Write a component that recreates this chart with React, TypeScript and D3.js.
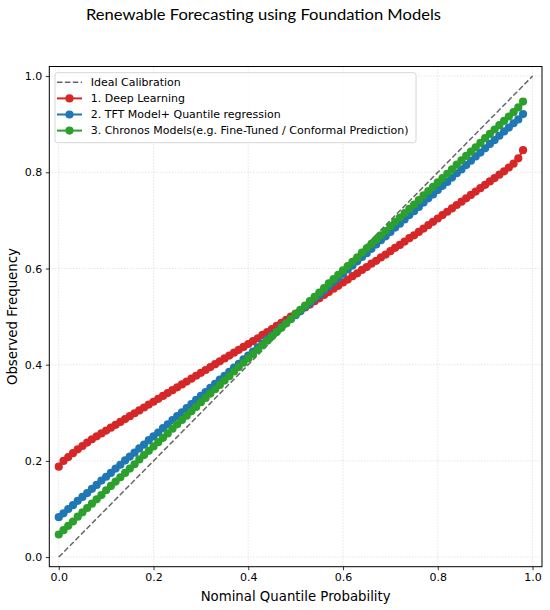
import * as d3 from "d3";
import { useEffect, useRef } from "react";

// nominal quantile levels
const nominal = [
  0.0, 0.01, 0.02, 0.03, 0.04, 0.05, 0.06, 0.07, 0.08, 0.09,
  0.1, 0.11, 0.12, 0.13, 0.14, 0.15, 0.16, 0.17, 0.18, 0.19,
  0.2, 0.21, 0.22, 0.23, 0.24, 0.25, 0.26, 0.27, 0.28, 0.29,
  0.3, 0.31, 0.32, 0.33, 0.34, 0.35, 0.36, 0.37, 0.38, 0.39,
  0.4, 0.41, 0.42, 0.43, 0.44, 0.45, 0.46, 0.47, 0.48, 0.49,
  0.5, 0.51, 0.52, 0.53, 0.54, 0.55, 0.56, 0.57, 0.58, 0.59,
  0.6, 0.61, 0.62, 0.63, 0.64, 0.65, 0.66, 0.67, 0.68, 0.69,
  0.7, 0.71, 0.72, 0.73, 0.74, 0.75, 0.76, 0.77, 0.78, 0.79,
  0.8, 0.81, 0.82, 0.83, 0.84, 0.85, 0.86, 0.87, 0.88, 0.89,
  0.9, 0.91, 0.92, 0.93, 0.94, 0.95, 0.96, 0.97, 0.98,
];

const deepLearning = [
  0.188, 0.2, 0.208, 0.216, 0.224, 0.231, 0.238, 0.245, 0.251, 0.257,
  0.263, 0.269, 0.275, 0.281, 0.287, 0.293, 0.299, 0.305, 0.311, 0.317,
  0.323, 0.329, 0.335, 0.341, 0.347, 0.353, 0.359, 0.365, 0.371, 0.377,
  0.383, 0.389, 0.395, 0.401, 0.407, 0.413, 0.419, 0.425, 0.431, 0.437,
  0.443, 0.449, 0.455, 0.462, 0.468, 0.474, 0.481, 0.487, 0.493, 0.5,
  0.506, 0.512, 0.519, 0.525, 0.532, 0.538, 0.545, 0.551, 0.558, 0.564,
  0.571, 0.577, 0.584, 0.59, 0.597, 0.603, 0.61, 0.616, 0.623, 0.629,
  0.636, 0.643, 0.649, 0.656, 0.663, 0.669, 0.676, 0.683, 0.69, 0.697,
  0.704, 0.711, 0.718, 0.725, 0.732, 0.739, 0.746, 0.753, 0.76, 0.767,
  0.774, 0.781, 0.788, 0.795, 0.802, 0.81, 0.818, 0.829, 0.846,
];

const tftQuantile = [
  0.083, 0.091, 0.1, 0.108, 0.117, 0.125, 0.133, 0.142, 0.15, 0.159,
  0.167, 0.175, 0.184, 0.192, 0.201, 0.209, 0.217, 0.226, 0.234, 0.243,
  0.251, 0.259, 0.268, 0.276, 0.285, 0.293, 0.301, 0.31, 0.318, 0.327,
  0.335, 0.343, 0.352, 0.36, 0.369, 0.377, 0.385, 0.394, 0.402, 0.411,
  0.419, 0.427, 0.436, 0.444, 0.453, 0.461, 0.469, 0.478, 0.486, 0.495,
  0.503, 0.511, 0.52, 0.528, 0.537, 0.545, 0.554, 0.563, 0.572, 0.58,
  0.589, 0.598, 0.606, 0.615, 0.624, 0.632, 0.641, 0.65, 0.659, 0.667,
  0.676, 0.685, 0.693, 0.702, 0.711, 0.719, 0.728, 0.737, 0.746, 0.754,
  0.763, 0.772, 0.78, 0.789, 0.798, 0.806, 0.815, 0.824, 0.833, 0.841,
  0.85, 0.859, 0.867, 0.876, 0.885, 0.893, 0.902, 0.91, 0.921,
];

const chronos = [
  0.047, 0.056, 0.065, 0.074, 0.084, 0.093, 0.102, 0.111, 0.12, 0.129,
  0.139, 0.148, 0.157, 0.166, 0.175, 0.184, 0.193, 0.203, 0.212, 0.221,
  0.23, 0.239, 0.248, 0.257, 0.267, 0.276, 0.285, 0.294, 0.303, 0.312,
  0.322, 0.331, 0.34, 0.349, 0.358, 0.367, 0.376, 0.386, 0.395, 0.404,
  0.413, 0.422, 0.431, 0.44, 0.45, 0.459, 0.468, 0.477, 0.486, 0.495,
  0.505, 0.514, 0.523, 0.532, 0.541, 0.55, 0.559, 0.569, 0.578, 0.587,
  0.596, 0.605, 0.614, 0.623, 0.633, 0.642, 0.651, 0.66, 0.669, 0.678,
  0.688, 0.697, 0.706, 0.715, 0.724, 0.733, 0.742, 0.752, 0.761, 0.77,
  0.779, 0.788, 0.797, 0.806, 0.816, 0.825, 0.834, 0.843, 0.852, 0.861,
  0.871, 0.88, 0.889, 0.898, 0.907, 0.916, 0.925, 0.935, 0.947,
];

const ideal = [0, 1];
const tickValues = [0, 0.2, 0.4, 0.6, 0.8, 1.0];

const seriesNames = [
  "1. Deep Learning",
  "2. TFT Model+ Quantile regression",
  "3. Chronos Models(e.g. Fine-Tuned / Conformal Prediction)",
];
const seriesColors = ["#d62728", "#1f77b4", "#2ca02c"];

const font = "'DejaVu Sans', sans-serif";

const App = () => {
  const width = 550,
    height = 610,
    left = 49.3,
    right = 542,
    top = 66.5,
    bottom = 566.7;

  const gx = useRef<SVGGElement>(null);
  const gy = useRef<SVGGElement>(null);

  const x = d3.scaleLinear([-0.02, 1.02], [left, right]);
  const y = d3.scaleLinear([-0.02, 1.02], [bottom, top]);
  const series = [deepLearning, tftQuantile, chronos];
  const line = d3
    .line<number>()
    .x((d, i) => x(nominal[i]))
    .y((d) => y(d));

  useEffect(() => {
    const ax = d3
      .axisBottom(x)
      .tickValues(tickValues)
      .tickFormat(d3.format(".1f"))
      .tickSize(3.5)
      .tickPadding(3.5);
    const g = d3.select(gx.current!).call(ax);
    g.select(".domain").remove();
    g.selectAll("text").attr("font-size", 11).attr("font-family", font).attr("fill", "#000");
    g.selectAll("line").attr("stroke", "#000").attr("stroke-width", 0.8);
  }, []);
  useEffect(() => {
    const ax = d3
      .axisLeft(y)
      .tickValues(tickValues)
      .tickFormat(d3.format(".1f"))
      .tickSize(3.5)
      .tickPadding(3.5);
    const g = d3.select(gy.current!).call(ax);
    g.select(".domain").remove();
    g.selectAll("text").attr("font-size", 11).attr("font-family", font).attr("fill", "#000");
    g.selectAll("line").attr("stroke", "#000").attr("stroke-width", 0.8);
  }, []);

  const legendX = 55,
    legendY = 72.7,
    rowH = 16.1;

  return (
    <svg
      width={width}
      height={height}
      style={{ position: "absolute", left: 0, top: 0, background: "#fff" }}
    >
      <text
        x={263.5}
        y={19.5}
        textAnchor="middle"
        fontSize={15.5}
        fontFamily="Lato, 'DejaVu Sans', sans-serif"
        textLength={355}
        lengthAdjust="spacingAndGlyphs"
      >
        Renewable Forecasting using Foundation Models
      </text>

      {/* grid */}
      <g stroke="#b0b0b0" strokeOpacity={0.6} strokeWidth={0.8} strokeDasharray="1,2">
        {tickValues.map((t) => (
          <line key={"gx" + t} x1={x(t)} x2={x(t)} y1={top} y2={bottom} />
        ))}
        {tickValues.map((t) => (
          <line key={"gy" + t} x1={left} x2={right} y1={y(t)} y2={y(t)} />
        ))}
      </g>

      <path
        d={`M${x(ideal[0])},${y(ideal[0])}L${x(ideal[1])},${y(ideal[1])}`}
        stroke="#000"
        strokeOpacity={0.6}
        strokeWidth={1.5}
        strokeDasharray="5.5,2.4"
        fill="none"
      />

      {series.map((s, k) => (
        <g key={k} stroke={seriesColors[k]} fill={seriesColors[k]}>
          <path d={line(s) || ""} fill="none" strokeWidth={2} />
          {s.map((v, i) => (
            <circle key={i} cx={x(nominal[i])} cy={y(v)} r={4.1} strokeWidth={0} />
          ))}
        </g>
      ))}

      <rect
        x={left}
        y={top}
        width={right - left}
        height={bottom - top}
        fill="none"
        stroke="#000"
        strokeWidth={1}
      />
      <g ref={gx} transform={`translate(0,${bottom})`} />
      <g ref={gy} transform={`translate(${left},0)`} />

      <text x={(left + right) / 2} y={601} textAnchor="middle" fontSize={13.3} fontFamily={font}>
        Nominal Quantile Probability
      </text>
      <text
        transform={`translate(16.5,${(top + bottom) / 2}) rotate(-90)`}
        textAnchor="middle"
        fontSize={13.3}
        fontFamily={font}
      >
        Observed Frequency
      </text>

      {/* legend */}
      <g>
        <rect
          x={legendX}
          y={legendY}
          width={361}
          height={70}
          rx={2.5}
          fill="#fff"
          fillOpacity={0.8}
          stroke="#cccccc"
          strokeWidth={0.8}
        />
        <line
          x1={57}
          x2={82}
          y1={legendY + 9.6}
          y2={legendY + 9.6}
          stroke="#000"
          strokeOpacity={0.6}
          strokeWidth={1.5}
          strokeDasharray="5.5,2.4"
        />
        <text x={90.7} y={legendY + 9.6} dy="0.35em" fontSize={11} fontFamily={font}>
          Ideal Calibration
        </text>
        {seriesNames.map((name, k) => {
          const yy = legendY + 9.6 + rowH * (k + 1);
          return (
            <g key={name}>
              <line x1={57} x2={82} y1={yy} y2={yy} stroke={seriesColors[k]} strokeWidth={2} />
              <circle cx={69.5} cy={yy} r={4.1} fill={seriesColors[k]} />
              <text x={90.7} y={yy} dy="0.35em" fontSize={11} fontFamily={font}>
                {name}
              </text>
            </g>
          );
        })}
      </g>
    </svg>
  );
};

export default App;
